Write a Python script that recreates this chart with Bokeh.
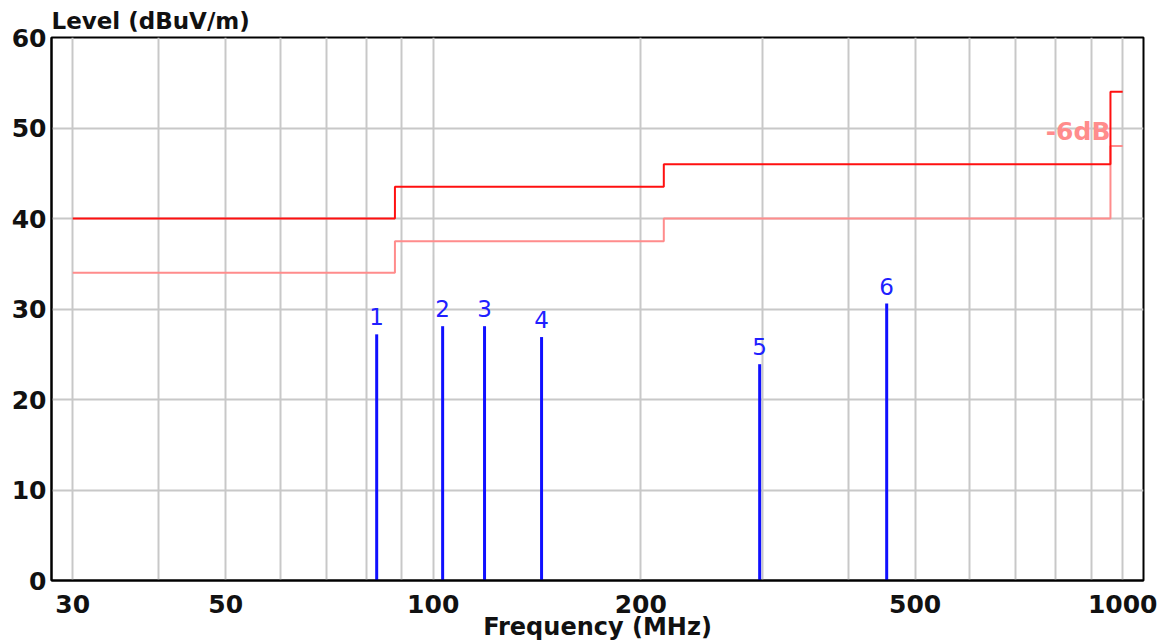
from bokeh.plotting import figure
from bokeh.models import Range1d, FixedTicker, PrintfTickFormatter, ColumnDataSource
from bokeh.core.properties import value
from bokeh.embed import file_html
from bokeh.resources import INLINE

# ---- data ----
x_ticks = [30, 50, 100, 200, 500, 1000]
x_grid = [30, 40, 50, 60, 70, 80, 90, 100, 200, 300, 400, 500, 600, 700, 800, 900, 1000]
y_ticks = [0, 10, 20, 30, 40, 50, 60]

limit_freq = [30, 88, 88, 216, 216, 960, 960, 1000]
limit_level = [40, 40, 43.5, 43.5, 46, 46, 54, 54]
margin_freq = [30, 88, 88, 216, 216, 960, 960, 1000]
margin_level = [34, 34, 37.5, 37.5, 40, 40, 48, 48]

peak_labels = ["1", "2", "3", "4", "5", "6"]
peak_freq = [82.8, 103.2, 118.7, 143.6, 297.5, 454.7]
peak_level = [27.2, 28.1, 28.1, 26.9, 23.9, 30.6]

margin_text = "-6dB"
margin_text_freq = 960
margin_text_level = 49.6

FONT = "DejaVu Sans"

p = figure(width=1168, height=643, x_axis_type="log",
           x_range=Range1d(27.95, 1072), y_range=Range1d(0, 60),
           output_backend="svg", toolbar_location=None,
           min_border_left=51, min_border_right=25, min_border_top=37, min_border_bottom=63,
           title="Level (dBuV/m)")

p.title.text_font = FONT
p.title.text_font_style = "bold"
p.title.text_font_size = "23px"
p.title.text_color = "#111111"
p.title.align = "left"
p.title.standoff = 8
p.title.offset = 0

p.outline_line_color = "black"
p.outline_line_width = 2
p.outline_line_alpha = 1
p.background_fill_color = "white"
p.border_fill_color = "white"

# grids
p.xgrid.ticker = FixedTicker(ticks=x_grid)
p.xgrid.grid_line_color = "#c8c8c8"
p.xgrid.grid_line_width = 2
p.ygrid.ticker = FixedTicker(ticks=[10, 20, 30, 40, 50])
p.ygrid.grid_line_color = "#c8c8c8"
p.ygrid.grid_line_width = 2

# axes
p.xaxis.ticker = FixedTicker(ticks=x_ticks)
p.xaxis.formatter = PrintfTickFormatter(format="%d")
p.yaxis.ticker = FixedTicker(ticks=y_ticks)
for ax in (p.xaxis[0], p.yaxis[0]):
    ax.axis_line_color = "black"
    ax.axis_line_width = 2
    ax.major_tick_line_color = None
    ax.minor_tick_line_color = None
    ax.major_tick_out = 0
    ax.major_tick_in = 0
    ax.major_label_text_font = FONT
    ax.major_label_text_font_style = "bold"
    ax.major_label_text_font_size = "25px"
    ax.major_label_text_color = "#111111"
p.yaxis.major_label_standoff = 5
p.xaxis.major_label_standoff = 14
p.xaxis.axis_label = "Frequency (MHz)"
p.xaxis.axis_label_text_font = FONT
p.xaxis.axis_label_text_font_style = "bold"
p.xaxis.axis_label_text_font_size = "24px"
p.xaxis.axis_label_text_color = "#111111"
p.xaxis.axis_label_standoff = -3

# limit lines
p.line(margin_freq, margin_level, line_color="#ff8c8c", line_width=2)
p.line(limit_freq, limit_level, line_color="#ff1010", line_width=2)

p.text(x=[margin_text_freq], y=[margin_text_level], text=[margin_text],
       text_font=value(FONT), text_font_style="bold", text_font_size="25px",
       text_color="#ff8c8c", text_align="right", text_baseline="middle")

# peaks
src = ColumnDataSource(dict(f=peak_freq, lvl=peak_level, lab=peak_labels, zero=[0] * len(peak_freq)))
p.segment(x0="f", y0="zero", x1="f", y1="lvl", source=src, line_color="#1010ff", line_width=3)
p.text(x="f", y="lvl", text="lab", source=src, text_font=value(FONT), text_font_size="23px",
       text_color="#2020ff", text_align="center", text_baseline="bottom", y_offset=-9)

open("out.html", "w").write(file_html(p, INLINE))
